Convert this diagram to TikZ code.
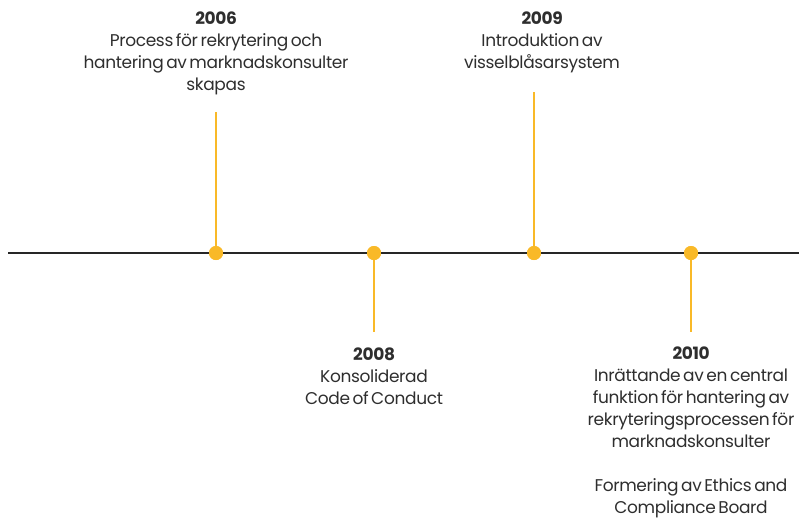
\documentclass[tikz,border=0pt]{standalone}
\usepackage{fontspec}
\setmainfont{Poppins}[LetterSpace=-2,WordSpace=0.6]
\definecolor{tlyellow}{HTML}{F9B928}
\definecolor{tltext}{HTML}{2E2E2E}
\begin{document}
\begin{tikzpicture}[x=1pt,y=-1pt,
  axis/.style={line width=2pt,draw=black!85},
  stem/.style={line width=2.2pt,draw=tlyellow},
  dot/.style={circle,fill=tlyellow,inner sep=0pt,minimum size=14pt},
  lbl/.style={align=center,text=tltext,font=\fontsize{17}{22}\selectfont,inner sep=0pt,anchor=north}]
\useasboundingbox (0,0) rectangle (799,517);
\coordinate (L) at (8,253);
\coordinate (R) at (799,253);
\draw[axis] (L) -- (R);
\coordinate (t06) at (216,112);
\coordinate (t08) at (374,332);
\coordinate (t09) at (534,92);
\coordinate (t10) at (691,332);
\node[dot] (d06) at (216,253) {};
\node[dot] (d08) at (374,253) {};
\node[dot] (d09) at (534,253) {};
\node[dot] (d10) at (691,253) {};
\draw[stem] (d06.center) -- (t06);
\draw[stem] (d08.center) -- (t08);
\draw[stem] (d09.center) -- (t09);
\draw[stem] (d10.center) -- (t10);
\node[dot] at (d06) {};
\node[dot] at (d08) {};
\node[dot] at (d09) {};
\node[dot] at (d10) {};
\node[lbl] (l06) at (216,12) {\textbf{2006}\\Process för rekrytering och\\hantering av marknadskonsulter\\skapas};
\node[lbl] (l09) at (542,12) {\textbf{2009}\\Introduktion av\\visselblåsarsystem};
\node[lbl] (l08) at (374,348) {\textbf{2008}\\Konsoliderad\\Code of Conduct};
\node[lbl] (l10) at (691,347) {\textbf{2010}\\Inrättande av en central\\funktion för hantering av\\rekryteringsprocessen för\\marknadskonsulter\\[22pt]Formering av Ethics and\\Compliance Board};
\end{tikzpicture}
\end{document}
